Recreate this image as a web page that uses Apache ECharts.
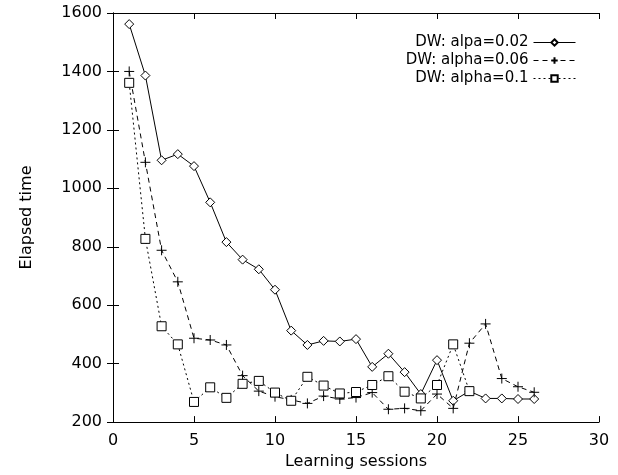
<!DOCTYPE html>
<html>
<head>
<meta charset="utf-8">
<script src="https://cdn.jsdelivr.net/npm/echarts@6/dist/echarts.min.js"></script>
<style>
  html, body { margin: 0; padding: 0; background: #fff; }
  #main { width: 618px; height: 475px; }
</style>
</head>
<body>
<div id="main"></div>
<script>
// data
var sessions = [1, 2, 3, 4, 5, 6, 7, 8, 9, 10, 11, 12, 13, 14, 15, 16, 17, 18, 19, 20, 21, 22, 23, 24, 25, 26];
var alpha002 = [1562, 1386, 1096, 1117, 1076, 952, 816, 756, 723, 653, 513, 464, 478, 476, 484, 389, 434, 371, 296, 412, 273, 306, 281, 281, 279, 279];
var alpha006 = [1400, 1089, 788, 680, 487, 481, 464, 359, 306, 287, 276, 264, 289, 279, 284, 301, 244, 247, 239, 296, 247, 470, 536, 349, 321, 302];
var alpha01 = [1361, 827, 528, 466, 269, 319, 283, 331, 341, 301, 273, 355, 325, 298, 303, 327, 357, 304, 281, 327, 466, 306];
var xTicks = [0, 30, 5];
var yTicks = [200, 1600, 200];

function pairs(vals) {
  return vals.map(function (v, i) { return [sessions[i], v]; });
}

var font = 'DejaVu Sans, Liberation Sans, sans-serif';
var plus = 'path://M0,5L10,5M5,0L5,10';

var myChart = echarts.init(document.getElementById('main'));

var axisCommon = {
  axisLine: { lineStyle: { color: '#000', width: 1 } },
  axisTick: { inside: true, length: 6, lineStyle: { color: '#000' } },
  splitLine: { show: false }
};

// hollow marks: white fill, thin black outline
var hollow = { color: '#fff', borderColor: '#000', borderWidth: 1 };

myChart.setOption({
  animation: false,
  backgroundColor: '#fff',
  textStyle: { fontFamily: font, color: '#000' },
  grid: { left: 113, right: 19, top: 13, bottom: 49, containLabel: false },
  legend: {
    orient: 'vertical',
    right: 37,
    top: 30,
    align: 'right',
    itemWidth: 42,
    itemHeight: 8,
    itemGap: 3,
    lineStyle: { width: 1 },
    textStyle: { fontFamily: font, fontSize: 15, color: '#000' },
    data: ['DW: alpa=0.02', 'DW: alpha=0.06', 'DW: alpha=0.1']
  },
  xAxis: [
    Object.assign({
      type: 'value', min: xTicks[0], max: xTicks[1], interval: xTicks[2],
      name: 'Learning sessions', nameLocation: 'middle', nameGap: 27,
      nameTextStyle: { fontFamily: font, fontSize: 16, color: '#000' },
      axisLabel: { fontFamily: font, fontSize: 16, color: '#000', margin: 11 }
    }, axisCommon),
    Object.assign({
      type: 'value', position: 'top', min: xTicks[0], max: xTicks[1], interval: xTicks[2],
      axisLabel: { show: false }
    }, axisCommon)
  ],
  yAxis: [
    Object.assign({
      type: 'value', min: yTicks[0], max: yTicks[1], interval: yTicks[2],
      name: 'Elapsed time', nameLocation: 'middle', nameGap: 78,
      nameTextStyle: { fontFamily: font, fontSize: 16, color: '#000' },
      axisLabel: {
        fontFamily: font, fontSize: 16, color: '#000', margin: 11,
        formatter: function (v) { return String(v); }
      }
    }, axisCommon),
    Object.assign({
      type: 'value', position: 'right', min: yTicks[0], max: yTicks[1], interval: yTicks[2],
      axisLabel: { show: false }
    }, axisCommon)
  ],
  series: [
    {
      name: 'DW: alpa=0.02', type: 'line', data: pairs(alpha002),
      symbol: 'diamond', symbolSize: 9,
      lineStyle: { color: '#000', width: 1, type: 'solid' },
      itemStyle: hollow
    },
    {
      name: 'DW: alpha=0.06', type: 'line', data: pairs(alpha006),
      symbol: plus, symbolSize: 10,
      lineStyle: { color: '#000', width: 1, type: [5, 4] },
      itemStyle: { color: '#000', borderColor: '#000', borderWidth: 1 }
    },
    {
      name: 'DW: alpha=0.1', type: 'line', data: pairs(alpha01),
      symbol: 'rect', symbolSize: 9,
      lineStyle: { color: '#000', width: 1, type: [2, 3] },
      itemStyle: hollow
    }
  ]
});
</script>
</body>
</html>
